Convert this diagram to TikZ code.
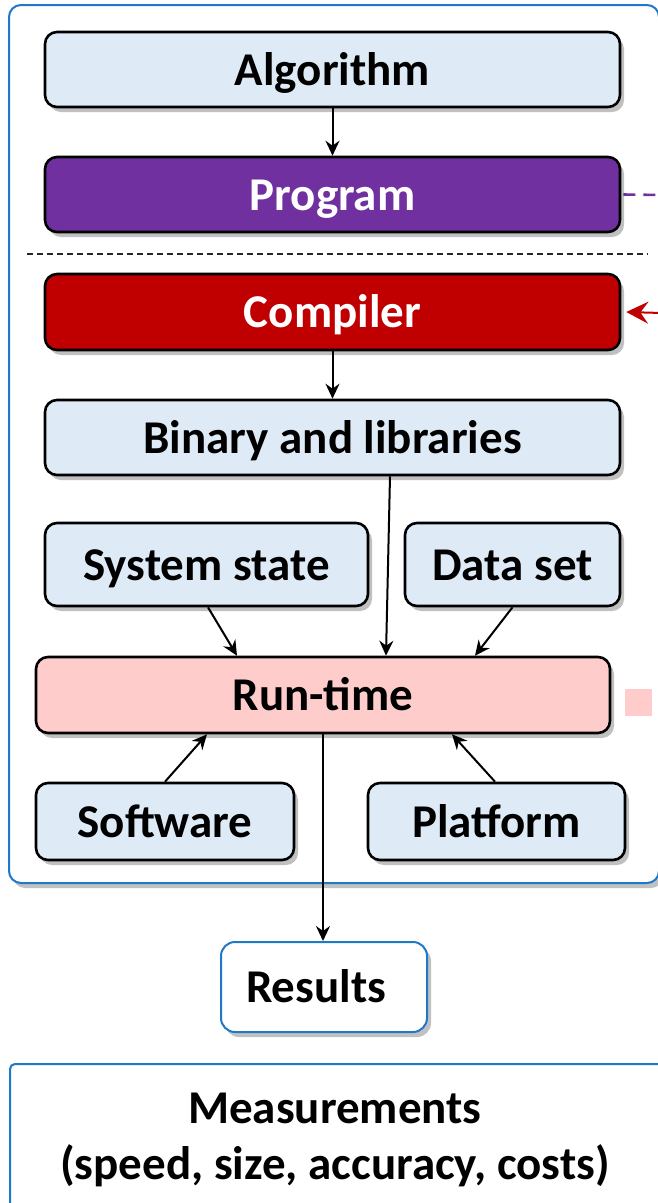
\documentclass[tikz,border=0pt]{standalone}
\usepackage{fontspec}
\setmainfont{Carlito}
\usetikzlibrary{shadows,arrows.meta,calc}
\definecolor{boxblue}{HTML}{DEEBF7}
\definecolor{progpurple}{HTML}{7030A0}
\definecolor{compred}{HTML}{C00000}
\definecolor{rtpink}{HTML}{FFCCCC}
\definecolor{frameblue}{HTML}{1F78C8}
\begin{document}
\begin{tikzpicture}[x=1pt,y=-1pt,
  shad/.style={drop shadow={shadow xshift=4pt,shadow yshift=-5pt,opacity=0.35,fill=black!70}},
  blk/.style={draw=black,line width=2.6pt,rounded corners=12pt,fill=boxblue,inner sep=0pt,
    text height=31pt,text depth=0pt,
    font=\fontsize{47}{55}\selectfont\bfseries,shad},
  container/.style={draw=frameblue,line width=2pt,rounded corners=12pt,fill=white,inner sep=0pt},
  conn/.style={draw=black,line width=2pt,-{Stealth[length=15pt,width=14pt,inset=5pt]}},
]
\useasboundingbox (0,0) rectangle (657,1203);
% outer frame
\node[container,shad,minimum width=650pt,minimum height=878pt] (frame) at (334,444) {};
% boxes
\node[blk,minimum width=575pt,minimum height=75pt] (alg) at (332.5,69.5) {Algorithm};
\node[blk,fill=progpurple,text=white,minimum width=575pt,minimum height=75pt] (prog) at (332.5,194.5) {Program};
\node[blk,fill=compred,text=white,minimum width=575pt,minimum height=76pt] (comp) at (332.5,312) {Compiler};
\node[blk,minimum width=575pt,minimum height=75pt] (bin) at (332.5,437.5) {Binary and libraries};
\node[blk,minimum width=323pt,minimum height=83pt] (sys) at (206.5,564.5) {System state};
\node[blk,minimum width=215pt,minimum height=83pt] (data) at (512.5,564.5) {Data set};
\node[blk,fill=rtpink,minimum width=574pt,minimum height=76pt] (run) at (323,695) {Run-time};
\node[blk,minimum width=258pt,minimum height=77pt] (soft) at (165,821.5) {Software};
\node[blk,minimum width=257pt,minimum height=77pt] (plat) at (496.5,821.5) {Platform};
\node[blk,draw=frameblue,line width=2pt,fill=white,rounded corners=14pt,minimum width=206pt,minimum height=90pt] (res) at (324,987) {Results\hspace*{16pt}};
% measurements box
\node[container,rounded corners=5pt,minimum width=680pt,minimum height=180pt,anchor=north west] (meas) at (9,1063) {};
\node[font=\fontsize{47}{56}\selectfont\bfseries,align=center,inner sep=0pt] (meastext) at (335,1140)
  {Measurements\\(speed, size, accuracy, costs)};
% separator
\coordinate (sepl) at (27,254);
\coordinate (sepr) at (648,254);
\draw[black!85,line width=1.2pt,dash pattern=on 6pt off 4pt] (sepl) -- (sepr);
% connectors
\draw[conn] (alg.south) -- (prog.north);
\draw[conn] (comp.south) -- (bin.north);
\draw[conn] ([xshift=57.5pt]bin.south) -- ([xshift=63pt]run.north);
\draw[conn] ([xshift=1.5pt]sys.south) -- ([xshift=-86pt]run.north);
\draw[conn] (data.south) -- ([xshift=152pt]run.north);
\draw[conn] (soft.north) -- ([xshift=-116pt]run.south);
\draw[conn] ([xshift=-1.5pt]plat.north) -- ([xshift=129pt]run.south);
\draw[conn] (run.south) -- (run.south |- res.north);
% side links
\coordinate (purpend) at (662,195);
\draw[progpurple,line width=2.6pt,dash pattern=on 12pt off 8pt] ([xshift=2pt]prog.east) -- (purpend);
\coordinate (redend) at (662,313);
\draw[compred,line width=2pt,-{Stealth[length=22pt,width=22pt,inset=8pt]}] (redend) -- ([xshift=5pt]comp.east);
\node[fill=rtpink,minimum width=27pt,minimum height=27pt,inner sep=0pt] (pinksq) at (638.5,702.5) {};
\end{tikzpicture}
\end{document}
